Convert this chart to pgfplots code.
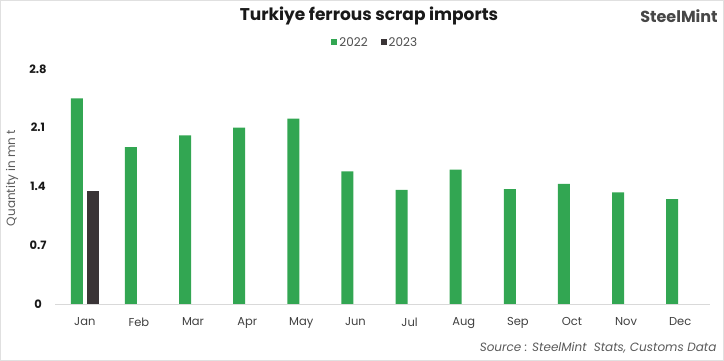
\documentclass[border=0pt]{standalone}
\usepackage{fontspec}
\setmainfont{Poppins}
\usepackage{pgfplots}
\pgfplotsset{compat=1.18}
\definecolor{bargreen}{RGB}{50,166,82}
\definecolor{bardark}{RGB}{58,52,54}
\definecolor{txtgray}{RGB}{90,90,90}
\begin{document}
\begin{tikzpicture}
\path[use as bounding box] (0pt,0pt) rectangle (724pt,361pt);
\draw[black!12] (0.5pt,0.5pt) rectangle (723.5pt,360.5pt);
\begin{axis}[
  at={(55pt,57pt)}, anchor=south west, scale only axis,
  width=655pt, height=235pt,
  ymin=0, ymax=2.8, xmin=-0.55, xmax=11.55,
  ybar=4pt, bar width=12pt,
  ytick={0,0.7,1.4,2.1,2.8},
  yticklabels={0,0.7,1.4,2.1,2.8},
  xtick={0,1,2,3,4,5,6,7,8,9,10,11},
  xticklabels={Jan,Feb,Mar,Apr,May,Jun,Jul,Aug,Sep,Oct,Nov,Dec},
  axis x line*=bottom, axis y line*=left,
  y axis line style={draw=none},
  x axis line style={draw=black!15, line width=0.8pt, -},
  major tick length=0pt,
  yticklabel style={anchor=center, xshift=-17pt, font=\bfseries\fontsize{11.5}{13}\selectfont, text=black!90},
  xticklabel style={font=\fontsize{11.5}{13}\selectfont, text=black!75, yshift=-10pt},
  legend style={at={(0.489,1.111)}, anchor=center, draw=none, fill=none,
    legend columns=2, font=\fontsize{12}{14}\selectfont, text=black!70,
    /tikz/every even column/.append style={column sep=11pt}},
  legend image code/.code={\fill[#1] (1pt,-2.5pt) rectangle (7pt,3.5pt);},
  clip=false,
]
\addplot[fill=bargreen, draw=none] coordinates {
  (0,2.45) (1,1.87) (2,2.01) (3,2.10) (4,2.21) (5,1.58)
  (6,1.36) (7,1.60) (8,1.37) (9,1.43) (10,1.33) (11,1.25)};
\addplot[fill=bardark, draw=none] coordinates {(0,1.35)};
\legend{2022,2023}
\end{axis}
\node[font=\bfseries\fontsize{17}{20}\selectfont, text=black!90] at (369pt,345pt) {Turkiye ferrous scrap imports};
\node[font=\bfseries\fontsize{16}{18}\selectfont, text=black!72] at (679pt,345pt) {SteelMint};
\node[rotate=90, font=\fontsize{12}{14}\selectfont, text=txtgray] at (12pt,183pt) {Quantity in mn t};
\node[anchor=east, font=\itshape\fontsize{12}{14}\selectfont, text=txtgray] at (720pt,13pt) {Source : SteelMint\ \ Stats, Customs Data};
\end{tikzpicture}
\end{document}
